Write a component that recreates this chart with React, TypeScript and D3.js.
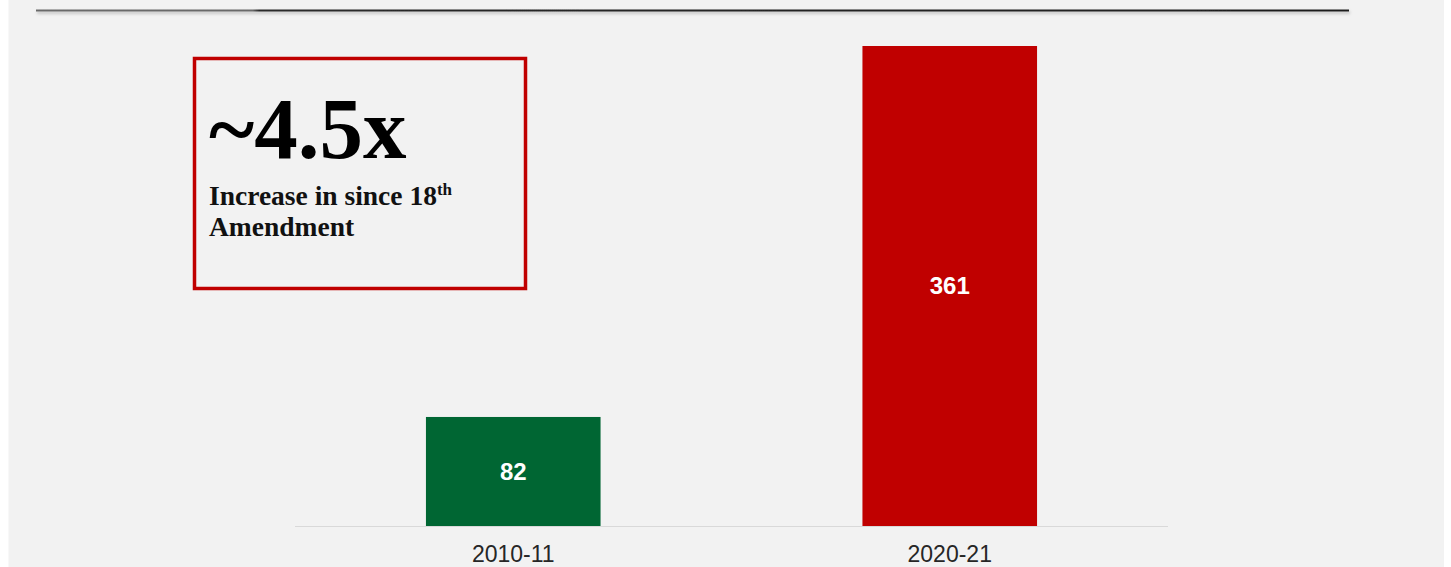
import React from "react";
import * as d3 from "d3";

const categories: string[] = ["2010-11", "2020-21"];
const values: number[] = [82, 361];
const barColors: string[] = ["#006633", "#c00000"];
const calloutBig = "~4.5x";
const calloutLine1 = "Increase in since 18";
const calloutSup = "th";
const calloutLine2 = "Amendment";

const W = 1451;
const H = 567;

export default function App() {
  const baseY = 526;
  const x = d3
    .scaleBand<string>()
    .domain(categories)
    .range([295, 1168])
    .paddingInner(0.6)
    .paddingOuter(0.3);
  const y = d3.scaleLinear().domain([0, 361]).range([baseY, 46]);

  return (
    <svg
      width={W}
      height={H}
      style={{ position: "absolute", left: 0, top: 0, display: "block" }}
    >
      <defs>
        <linearGradient id="topline" x1="0" x2="1" y1="0" y2="0">
          <stop offset="0" stopColor="#6b6b6b" />
          <stop offset="0.165" stopColor="#6b6b6b" />
          <stop offset="0.17" stopColor="#2a2a2a" />
          <stop offset="1" stopColor="#1e1e1e" />
        </linearGradient>
        <filter id="shadow" filterUnits="userSpaceOnUse" x={0} y={0} width={W} height={30}>
          <feDropShadow dx="1" dy="2" stdDeviation="1.5" floodColor="#000" floodOpacity="0.25" />
        </filter>
      </defs>
      <rect x={0} y={0} width={W} height={H} fill="#ffffff" />
      <rect x={8.5} y={0} width={1435.5} height={H} fill="#f2f2f2" />

      <rect
        x={36}
        y={9.5}
        width={1313}
        height={2}
        fill="url(#topline)"
        filter="url(#shadow)"
      />

      {/* axis baseline */}
      <line x1={295} x2={1168} y1={baseY + 0.5} y2={baseY + 0.5} stroke="#d9d9d9" strokeWidth={1.2} />

      {categories.map((c, i) => {
        const bx = x(c) as number;
        const bw = x.bandwidth();
        const top = y(values[i]);
        return (
          <g key={c}>
            <rect x={bx} y={top} width={bw} height={baseY - top} fill={barColors[i]} />
            <text
              x={bx + bw / 2}
              y={(top + baseY) / 2}
              dy="0.35em"
              textAnchor="middle"
              fill="#ffffff"
              fontFamily="'Liberation Sans', Arial, sans-serif"
              fontWeight="bold"
              fontSize={24}
            >
              {values[i]}
            </text>
            <text
              x={bx + bw / 2}
              y={562}
              textAnchor="middle"
              fill="#262626"
              fontFamily="'Liberation Sans', Arial, sans-serif"
              fontSize={23}
            >
              {c}
            </text>
          </g>
        );
      })}

      {/* callout box */}
      <rect x={194.5} y={58.5} width={331} height={230} fill="none" stroke="#c00000" strokeWidth={3.5} />
      <text
        x={209}
        y={158}
        fontFamily="'Liberation Serif', 'Times New Roman', serif"
        fontWeight="bold"
        fontSize={87}
        fill="#000"
      >
        {calloutBig}
      </text>
      <text
        x={209}
        y={205}
        fontFamily="'Liberation Serif', 'Times New Roman', serif"
        fontWeight="bold"
        fontSize={27.5}
        fill="#111"
      >
        {calloutLine1}
        <tspan dy={-10} fontSize={17}>
          {calloutSup}
        </tspan>
      </text>
      <text
        x={209}
        y={236}
        fontFamily="'Liberation Serif', 'Times New Roman', serif"
        fontWeight="bold"
        fontSize={27.5}
        fill="#111"
      >
        {calloutLine2}
      </text>
    </svg>
  );
}
